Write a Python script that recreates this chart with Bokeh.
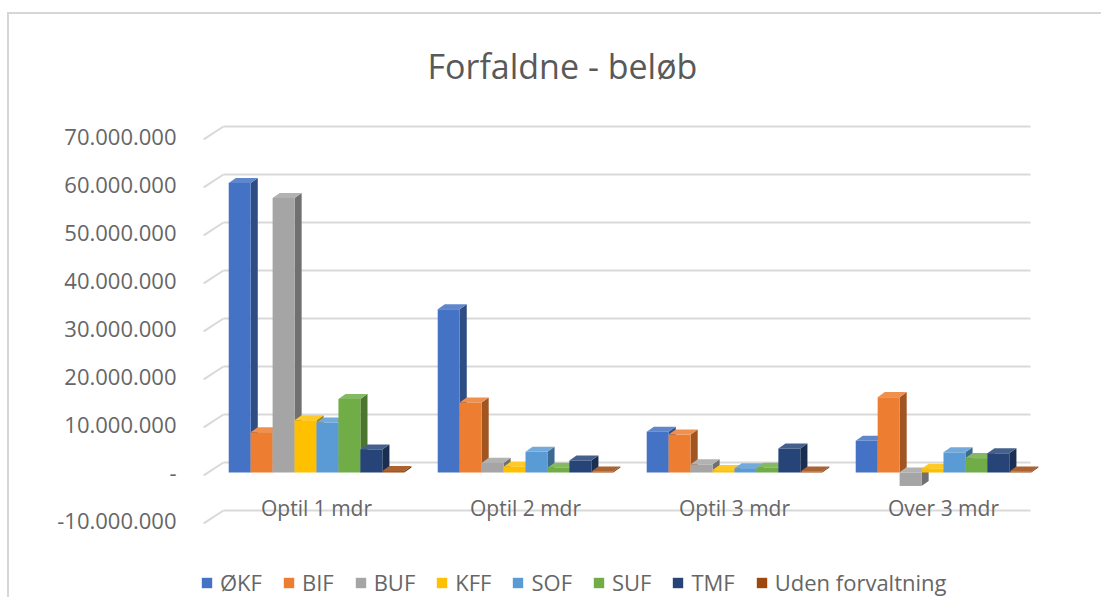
from bokeh.plotting import figure
from bokeh.models import FixedTicker, Legend, LegendItem, ColumnDataSource
from bokeh.core.properties import value
from bokeh.embed import file_html
from bokeh.resources import INLINE

categories = ["Optil 1 mdr", "Optil 2 mdr", "Optil 3 mdr", "Over 3 mdr"]
series = ["ØKF", "BIF", "BUF", "KFF", "SOF", "SUF", "TMF", "Uden forvaltning"]
colors = ["#4472C4", "#ED7D31", "#A5A5A5", "#FFC000", "#5B9BD5", "#70AD47", "#264478", "#9E480E"]

okf = [60_300_000, 34_000_000, 8_500_000, 6_600_000]
bif = [8_400_000, 14_600_000, 7_900_000, 15_700_000]
buf = [57_200_000, 2_000_000, 1_700_000, -2_800_000]
kff = [10_900_000, 1_200_000, 500_000, 800_000]
sof = [10_400_000, 4_300_000, 900_000, 4_200_000]
suf = [15_300_000, 1_000_000, 1_000_000, 3_000_000]
tmf = [4_800_000, 2_500_000, 5_000_000, 4_000_000]
uden = [300_000, 200_000, 200_000, 200_000]
values = [okf, bif, buf, kff, sof, suf, tmf, uden]

y_ticks = [-10_000_000, 0, 10_000_000, 20_000_000, 30_000_000, 40_000_000,
           50_000_000, 60_000_000, 70_000_000]

FONT = "Open Sans"
TXT = "#666666"


def fmt(v):
    if v == 0:
        return "-"
    s = f"{abs(v):,}".replace(",", ".")
    return ("-" if v < 0 else "") + s


def shade(hexc, f):
    h = hexc.lstrip("#")
    r, g, b = (int(h[i:i + 2], 16) for i in (0, 2, 4))
    if f < 1:
        r, g, b = (int(c * f) for c in (r, g, b))
    else:
        t = f - 1
        r, g, b = (int(c + (255 - c) * t) for c in (r, g, b))
    return "#%02x%02x%02x" % (r, g, b)


p = figure(width=1094, height=585, output_backend="svg", toolbar_location=None,
           x_range=(-0.055, 4.012), y_range=(-26_040_000.0, 75_000_000.0),
           min_border_left=191, min_border_right=53, min_border_top=98,
           min_border_bottom=2, title="Forfaldne - beløb")
p.styles = {"margin-top": "12px", "margin-left": "7px",
            "border-top": "2px solid #d6d6d6", "border-left": "2px solid #d6d6d6"}
p.outline_line_color = None
p.background_fill_color = "white"
p.border_fill_color = "white"

p.title.align = "left"
p.title.offset = 227
p.title.standoff = 47
p.title.text_font = FONT
p.title.text_font_size = "34px"
p.title.text_font_style = "normal"
p.title.text_color = "#595959"

p.xaxis.visible = False
p.xgrid.visible = False
p.ygrid.visible = False
p.yaxis.ticker = FixedTicker(ticks=y_ticks)
p.yaxis.major_label_overrides = {float(t): fmt(t) for t in y_ticks}
p.yaxis.axis_line_color = None
p.yaxis.major_tick_line_color = None
p.yaxis.minor_tick_line_color = None
p.yaxis.major_label_text_font = FONT
p.yaxis.major_label_text_font_size = "22px"
p.yaxis.major_label_text_color = TXT
p.yaxis.major_label_standoff = 18

# back-wall gridlines and side-wall diagonals (3D look)
back_dy = 2_080_000
front_dy = -600_000
x_wall_front, x_wall_back, x_back_end = -0.04, 0.055, 3.916
p.segment(x0=[x_wall_back] * len(y_ticks), y0=[t + back_dy for t in y_ticks],
          x1=[x_back_end] * len(y_ticks), y1=[t + back_dy for t in y_ticks],
          line_color="#d9d9d9", line_width=2)
p.segment(x0=[x_wall_front] * len(y_ticks), y0=[t + front_dy for t in y_ticks],
          x1=[x_wall_back] * len(y_ticks), y1=[t + back_dy for t in y_ticks],
          line_color="#d9d9d9", line_width=2)

w = 0.105
dx = 0.034
dy = 1_050_000

items = []
for i, (name, col, vals) in enumerate(zip(series, colors, values)):
    xs = [g + 0.5 + (i - 3.5) * w for g in range(len(categories))]
    side_x, side_y, top_x, top_y = [], [], [], []
    for x, v in zip(xs, vals):
        x1 = x + w / 2
        x0 = x - w / 2
        lo, hi = min(0, v), max(0, v)
        side_x.append([x1, x1 + dx, x1 + dx, x1])
        side_y.append([lo, lo + dy, hi + dy, hi])
        top_x.append([x0, x1, x1 + dx, x0 + dx])
        top_y.append([hi, hi, hi + dy, hi + dy])
    p.patches(side_x, side_y, fill_color=shade(col, 0.68), line_color=None)
    p.patches(top_x, top_y, fill_color=shade(col, 1.15), line_color=None)
    src = ColumnDataSource(dict(x=xs, top=vals))
    r = p.vbar(x="x", top="top", bottom=0, width=w, source=src,
               fill_color=col, line_color=None)
    items.append(LegendItem(label=name, renderers=[r]))

cat_src = ColumnDataSource(dict(x=[g + 0.5 for g in range(len(categories))],
                                y=[-7_300_000] * len(categories), t=categories))
p.text(x="x", y="y", text="t", source=cat_src, text_align="center",
       text_baseline="middle", text_font=value(FONT), text_font_size="21px",
       text_color=TXT)

legend = Legend(items=items, orientation="horizontal", location=(0, 0))
legend.label_text_font = FONT
legend.label_text_font_size = "22px"
legend.label_text_color = TXT
legend.glyph_width = 13
legend.glyph_height = 13
legend.label_standoff = 7
legend.spacing = 20
legend.border_line_color = None
legend.background_fill_alpha = 0
legend.padding = 0
legend.margin = 0
p.add_layout(legend, "center")

open("out.html", "w").write(file_html(p, INLINE))
